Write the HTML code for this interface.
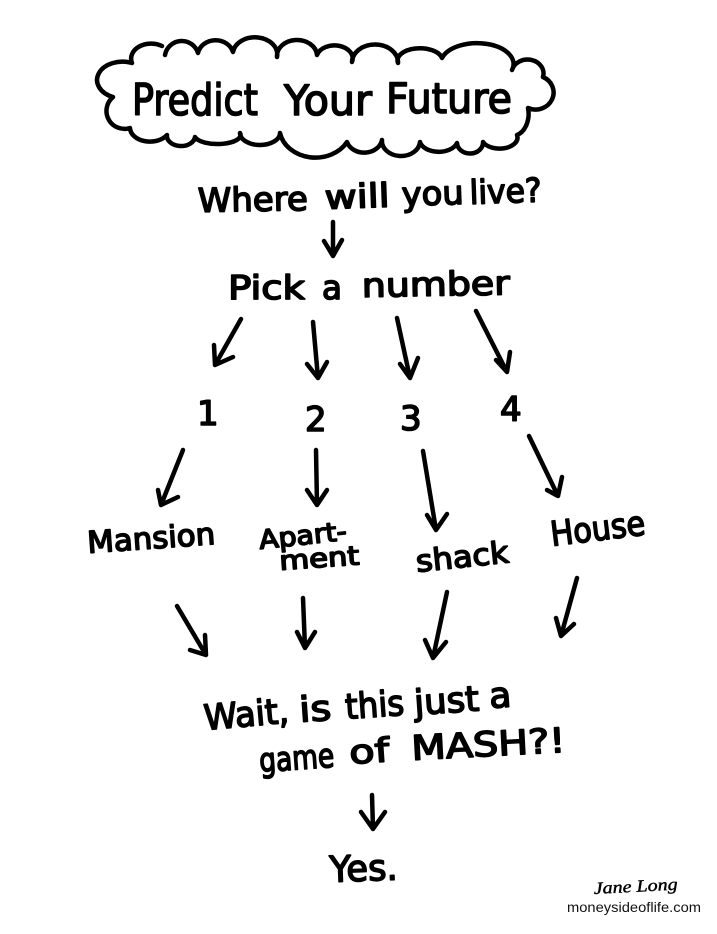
<!DOCTYPE html>
<html>
<head>
<meta charset="utf-8">
<style>
html,body{margin:0;padding:0;background:#fff;width:717px;height:934px;overflow:hidden}
svg{display:block}
text.h{font-family:"DejaVu Sans","Liberation Sans",sans-serif;fill:#000;stroke:#000;stroke-width:1.6px;stroke-linejoin:round}
.a{fill:none;stroke:#000;stroke-width:4.5;stroke-linecap:round;stroke-linejoin:round}
</style>
</head>
<body>
<svg width="717" height="934" viewBox="0 0 717 934" xmlns="http://www.w3.org/2000/svg">
<path class="a" d="M165,55 A17,17 0 0 1 198,53 A18,16 0 0 1 233,52 A22,17 0 0 1 277,57 A20,16 0 0 1 317,55 A18,13 0 0 1 352,62 A23,18 0 0 1 398,63 A22,12 0 0 1 442,58 A35,20 0 0 1 512,70 A16,14 0 0 1 543,77 A17,16 0 0 1 528,108 A16,22 0 0 1 517,135 A18,11 0 0 1 483,142 A13,11 0 0 1 457,143 A19,12 0 0 1 420,142 A19,15 0 0 1 382,140 A18,15 0 0 1 347,142 A36,30 0 0 1 280,133 A20,12 0 0 1 240,133 A23,9 0 0 1 195,137 A14,10 0 0 1 167,135 A20,14 0 0 1 130,128 A18,18 0 0 1 113,97 A25,18 0 0 1 132,63 A20,15 0 0 1 162,46"/>

<g>
<text class="h" x="132" y="115" font-size="44" textLength="126" lengthAdjust="spacingAndGlyphs">Predict</text>
<text class="h" x="284" y="115" font-size="42" textLength="88" lengthAdjust="spacingAndGlyphs">Your</text>
<text class="h" x="386" y="113" font-size="42" textLength="126" lengthAdjust="spacingAndGlyphs">Future</text>

<text class="h" x="198" y="212" font-size="33" textLength="110" lengthAdjust="spacingAndGlyphs" transform="rotate(-1 198 212)">Where</text>
<text class="h" x="325" y="209" font-size="33" textLength="65" lengthAdjust="spacingAndGlyphs" transform="rotate(-2 325 209)">will</text>
<text class="h" x="402" y="206" font-size="33" textLength="62" lengthAdjust="spacingAndGlyphs" transform="rotate(-2 402 206)">you</text>
<text class="h" x="470" y="204" font-size="33" textLength="72" lengthAdjust="spacingAndGlyphs" transform="rotate(-2 470 204)">live?</text>

<text class="h" x="228" y="299" font-size="33" textLength="77" lengthAdjust="spacingAndGlyphs">Pick</text>
<text class="h" x="322" y="299" font-size="33" textLength="20" lengthAdjust="spacingAndGlyphs">a</text>
<text class="h" x="362" y="297" font-size="33" textLength="148" lengthAdjust="spacingAndGlyphs" transform="rotate(-1 362 297)">number</text>

<text class="h" x="197" y="425" font-size="34">1</text>
<text class="h" x="305" y="431" font-size="34">2</text>
<text class="h" x="400" y="430" font-size="34">3</text>
<text class="h" x="500" y="421" font-size="34">4</text>

<text class="h" x="88" y="553" font-size="30" textLength="128" lengthAdjust="spacingAndGlyphs" transform="rotate(-4 88 553)">Mansion</text>
<text class="h" x="260" y="549" font-size="26" textLength="88" lengthAdjust="spacingAndGlyphs" transform="rotate(-6 260 549)">Apart-</text>
<text class="h" x="280" y="570" font-size="26" textLength="80" lengthAdjust="spacingAndGlyphs" transform="rotate(-4 280 570)">ment</text>
<text class="h" x="417" y="572" font-size="30" textLength="93" lengthAdjust="spacingAndGlyphs" transform="rotate(-6 417 572)">shack</text>
<text class="h" x="552" y="546" font-size="34" textLength="95" lengthAdjust="spacingAndGlyphs" transform="rotate(-7 552 546)">House</text>

<text class="h" x="205" y="730" font-size="35" textLength="85" lengthAdjust="spacingAndGlyphs" transform="rotate(-5 205 730)">Wait,</text>
<text class="h" x="300" y="722" font-size="35" textLength="32" lengthAdjust="spacingAndGlyphs" transform="rotate(-4 300 722)">is</text>
<text class="h" x="346" y="719" font-size="35" textLength="59" lengthAdjust="spacingAndGlyphs" transform="rotate(-4 346 719)">this</text>
<text class="h" x="415" y="715" font-size="35" textLength="65" lengthAdjust="spacingAndGlyphs" transform="rotate(-4 415 715)">just</text>
<text class="h" x="490" y="708" font-size="35" textLength="22" lengthAdjust="spacingAndGlyphs" transform="rotate(-4 490 708)">a</text>

<text class="h" x="260" y="772" font-size="33" textLength="75" lengthAdjust="spacingAndGlyphs" transform="rotate(-4 260 772)">game</text>
<text class="h" x="350" y="764" font-size="33" textLength="40" lengthAdjust="spacingAndGlyphs" transform="rotate(-4 350 764)">of</text>
<text class="h" x="412" y="760" font-size="34" textLength="154" lengthAdjust="spacingAndGlyphs" transform="rotate(-3 412 760)">MASH?!</text>

<text class="h" x="330" y="882" font-size="36" textLength="68" lengthAdjust="spacingAndGlyphs" transform="rotate(-2 330 882)">Yes.</text>
</g>

<text x="594" y="894" font-family="'Liberation Serif',serif" font-style="italic" font-size="17" textLength="84" lengthAdjust="spacingAndGlyphs" fill="#000" stroke="#000" stroke-width="0.4" transform="rotate(-3 594 894)">Jane Long</text>
<text x="567" y="912" font-family="'Liberation Sans',sans-serif" font-size="13.5" textLength="134" lengthAdjust="spacingAndGlyphs" fill="#111">moneysideoflife.com</text>

<path class="a" d="M333,222 L333,256 M324,241 L333,256 L342,240"/>
<path class="a" d="M241,319 L215,365 M214,345 L215,365 L233,357"/>
<path class="a" d="M313,322 L318,378 M307,364 L318,378 L327,362"/>
<path class="a" d="M397,318 L410,378 M400,364 L410,378 L418,358"/>
<path class="a" d="M476,311 L507,372 M496,360 L507,372 L510,352"/>
<path class="a" d="M183,450 L161,505 M158,490 L161,505 L178,497"/>
<path class="a" d="M316,450 L317,505 M307,490 L317,505 L327,490"/>
<path class="a" d="M423,451 L436,530 M427,515 L436,530 L447,514"/>
<path class="a" d="M529,436 L558,496 M547,490 L558,496 L562,477"/>
<path class="a" d="M177,606 L206,655 M190,650 L206,655 L205,635"/>
<path class="a" d="M303,598 L305,648 M297,632 L305,648 L315,632"/>
<path class="a" d="M447,592 L433,658 M425,640 L433,658 L446,642"/>
<path class="a" d="M577,578 L561,636 M556,618 L561,636 L574,624"/>
<path class="a" d="M372,795 L373,829 M361,812 L373,829 L385,812"/>
</svg>
</body>
</html>
